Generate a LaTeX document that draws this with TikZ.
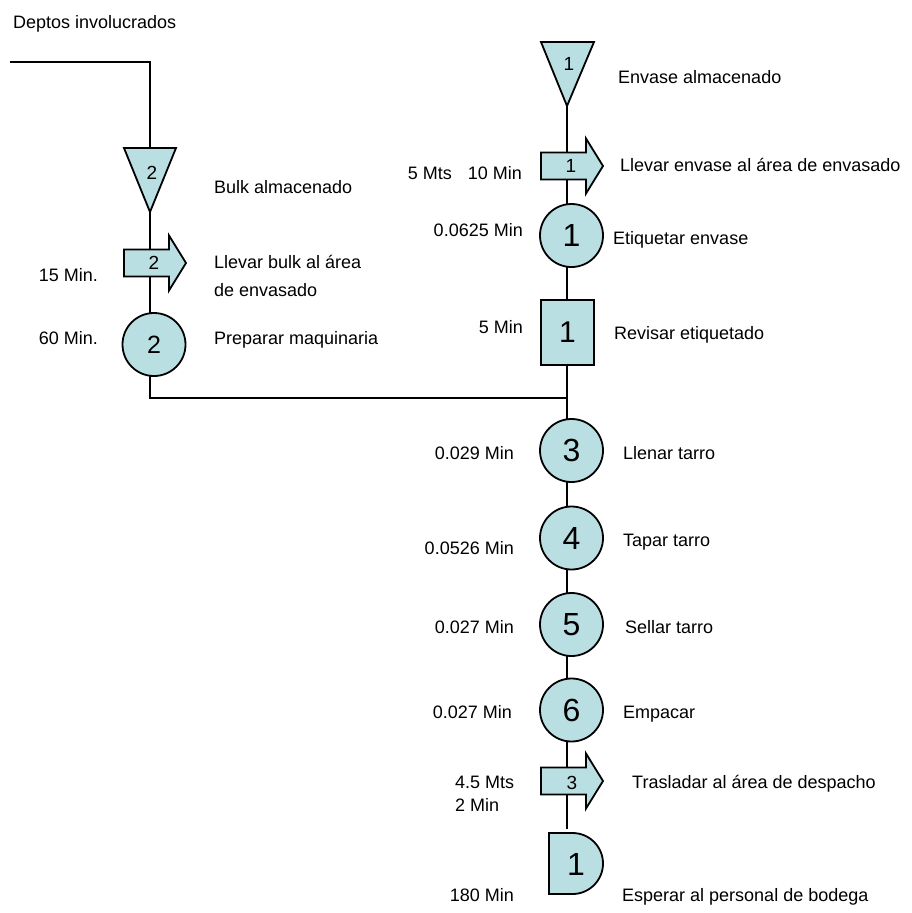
\documentclass[tikz,border=0pt]{standalone}
\usepackage{fontspec}
\setmainfont{Liberation Sans}
\definecolor{symfill}{RGB}{186,223,226}
\begin{document}
\begin{tikzpicture}[x=1pt,y=-1pt,
  flow/.style={line width=1.8pt},
  symbol/.style={draw=black, line width=1.8pt, fill=symfill, line join=miter},
  opcircle/.style={symbol, circle, minimum size=63pt, inner sep=0pt},
  txt/.style={font=\fontsize{18}{21}\selectfont, inner sep=0pt},
  numsmall/.style={font=\fontsize{19}{21}\selectfont, inner sep=0pt},
  nummid/.style={font=\fontsize{25}{27}\selectfont, inner sep=0pt},
  numbig/.style={font=\fontsize{32}{34}\selectfont, inner sep=0pt},
  pics/transport/.style={code={
    \draw[symbol] (0,-13.5) -- (45,-13.5) -- (45,-27.5) -- (62,0)
      -- (45,27.5) -- (45,13.5) -- (0,13.5) -- cycle;}}
]
\useasboundingbox (0,0) rectangle (912,913);

% connector end points
\coordinate (feed) at (10,62);
\coordinate (merge-left) at (150,398);
\coordinate (merge) at (567,398);
\coordinate (envase) at (567,106);
\coordinate (dispatch-end) at (567,829);

% flow lines (drawn first, symbols are filled on top)
\draw[flow] (feed) -| (merge-left) -- (merge);
\draw[flow] (envase) -- (dispatch-end);

% ---- left branch: bulk ----
\draw[symbol] (124,148) -- (176,148) -- (150,212) -- cycle;
\node[numsmall] (n-store2) at (152,173) {2};
\pic at (124,263) {transport};
\node[numsmall] (n-move2) at (154,263) {2};
\node[opcircle, nummid] (op2) at (154,344.5) {2};

% ---- right branch: container ----
\draw[symbol] (541,42) -- (594,42) -- (567,106) -- cycle;
\node[numsmall] (n-store1) at (569,64) {1};
\pic at (541,166) {transport};
\node[numsmall] (n-move1) at (571,166) {1};
\node[opcircle, numbig] (op1) at (571.5,235.5) {1};
\node[symbol, rectangle, minimum width=53pt, minimum height=65pt, inner sep=0pt,
  font=\fontsize{30}{32}\selectfont] (insp1) at (567.5,332.5) {1};

% ---- main line ----
\node[opcircle, numbig] (op3) at (571.5,450.5) {3};
\node[opcircle, numbig] (op4) at (571.5,538) {4};
\node[opcircle, numbig] (op5) at (571.5,624.5) {5};
\node[opcircle, numbig] (op6) at (571.5,710) {6};
\pic at (541,781) {transport};
\node[numsmall] (n-move3) at (572,783) {3};
\draw[symbol] (549,833) -- (572.5,833) arc[start angle=-90, end angle=90, radius=30.5]
  -- (549,894) -- cycle;
\node[numbig] (n-delay1) at (576,864) {1};

% ---- descriptions ----
\node[txt, anchor=base west] (title) at (13,28) {Deptos involucrados};
\node[txt, anchor=base west] (d-store2) at (214,193) {Bulk almacenado};
\node[txt, anchor=base west] (d-move2a) at (214,268) {Llevar bulk al área};
\node[txt, anchor=base west] (d-move2b) at (214,296) {de envasado};
\node[txt, anchor=base west] (d-op2) at (214,344) {Preparar maquinaria};

\node[txt, anchor=base west] (d-store1) at (618,83) {Envase almacenado};
\node[txt, anchor=base west] (d-move1) at (620,171) {Llevar envase al área de envasado};
\node[txt, anchor=base west] (d-op1) at (613,244) {Etiquetar envase};
\node[txt, anchor=base west] (d-insp1) at (614,339) {Revisar etiquetado};
\node[txt, anchor=base west] (d-op3) at (623,459) {Llenar tarro};
\node[txt, anchor=base west] (d-op4) at (623,546) {Tapar tarro};
\node[txt, anchor=base west] (d-op5) at (625,633) {Sellar tarro};
\node[txt, anchor=base west] (d-op6) at (623,718) {Empacar};
\node[txt, anchor=base west] (d-move3) at (632,788) {Trasladar al área de despacho};
\node[txt, anchor=base west] (d-delay1) at (622,901) {Esperar al personal de bodega};

% ---- times and distances ----
\node[txt, anchor=base east] (t-move2) at (98,281) {15 Min.};
\node[txt, anchor=base east] (t-op2) at (98,344) {60 Min.};
\node[txt, anchor=base east] (t-move1) at (522,179) {5 Mts\hspace{16pt}10 Min};
\node[txt, anchor=base east] (t-op1) at (523,236) {0.0625 Min};
\node[txt, anchor=base east] (t-insp1) at (523,333) {5 Min};
\node[txt, anchor=base east] (t-op3) at (514,459) {0.029 Min};
\node[txt, anchor=base east] (t-op4) at (514,554) {0.0526 Min};
\node[txt, anchor=base east] (t-op5) at (514,633) {0.027 Min};
\node[txt, anchor=base east] (t-op6) at (512,718) {0.027 Min};
\node[txt, anchor=base west] (t-move3a) at (455,788) {4.5 Mts};
\node[txt, anchor=base west] (t-move3b) at (455,811) {2 Min};
\node[txt, anchor=base east] (t-delay1) at (514,901) {180 Min};
\end{tikzpicture}
\end{document}
